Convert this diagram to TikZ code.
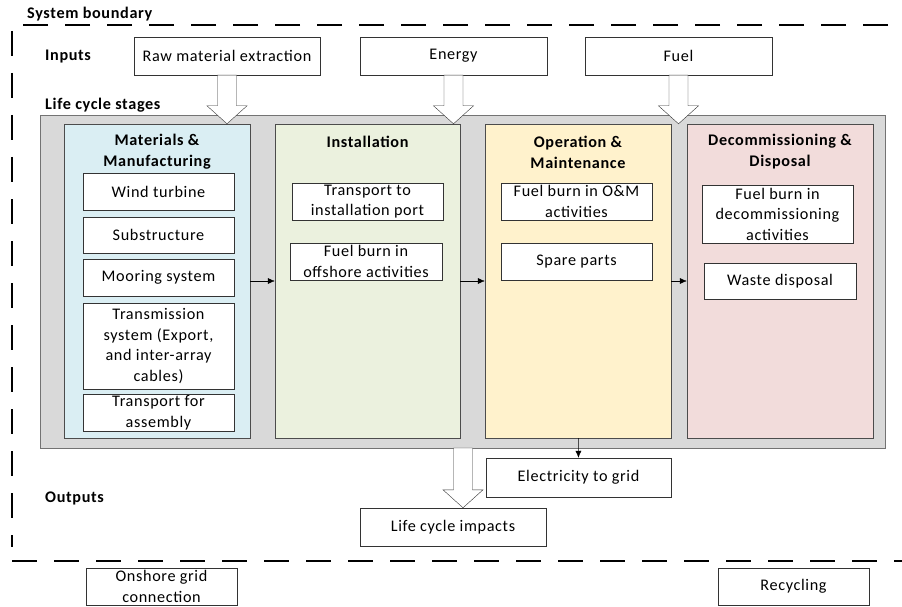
\documentclass[tikz,border=0pt]{standalone}
\usepackage{fontspec}
\setmainfont{Carlito}[LetterSpace=4]
\usetikzlibrary{
  calc,
  arrows.meta
}
\definecolor{mmfill}{HTML}{DAEEF3}
\definecolor{instfill}{HTML}{EBF1DE}
\definecolor{omfill}{HTML}{FFF2CC}
\definecolor{ddfill}{HTML}{F2DCDB}
\definecolor{lcsfill}{HTML}{D9D9D9}
\tikzset{
  item/.style={
    draw=black!80,
    fill=white,
    align=center,
    inner sep=0pt,
    font=\fontsize{16.2}{20.5}\selectfont
  },
  stage/.style={
    draw=black!70,
    minimum width=186,
    minimum height=314,
    inner sep=0pt
  },
  heading/.style={
    align=center,
    inner sep=0pt,
    font=\fontsize{16.2}{21}\selectfont\bfseries
  },
  flow/.style={
    -{Latex[length=7pt,width=6pt]},
    black
  },
  hollow/.style={
    draw=black!80,
    fill=white
  },
  boundary/.style={
    line width=1.3pt,
    dash pattern=on 25pt off 17pt
  }
}
\newcommand\blockarrow[2]{%
  \draw[hollow] let \p1=(#1), \p2=(#2) in
    (\x1-9.5pt,\y1) -- (\x1-9.5pt,\y2+18pt) -- (\x1-20pt,\y2+18pt) -- (\x1,\y2)
    -- (\x1+20pt,\y2+18pt) -- (\x1+9.5pt,\y2+18pt) -- (\x1+9.5pt,\y1) -- cycle;}
\begin{document}
\begin{tikzpicture}[x=1pt,y=-1pt]
  \useasboundingbox (0,0) rectangle (902,607);
  \draw[boundary] (888,25) -- (12,25) -- (12,547);
  \draw[boundary] (12,561) -- (902,561);
  \node[heading,anchor=west] (sb) at (27,14) {System boundary};
  \node[heading,anchor=west] (inputs) at (45,57) {Inputs};
  \node[heading,anchor=west] (stages) at (45,105) {Life cycle stages};
  \node[heading,anchor=west] (outputs) at (45,498) {Outputs};

  \node[item,minimum width=186,minimum height=38] (raw) at (227,56) {Raw material extraction};
  \node[item,minimum width=187,minimum height=38] (energy) at (453.5,56) {Energy};
  \node[item,minimum width=187,minimum height=38] (fuel) at (678.5,56) {Fuel};

  \node[draw=black!55,fill=lcsfill,minimum width=845,minimum height=333,inner sep=0pt] (lcs) at (462.5,281.5) {};
  \node[stage,fill=mmfill] (mm) at (157,281) {};
  \node[stage,fill=instfill,minimum width=185] (inst) at (367.5,281) {};
  \node[stage,fill=omfill] (om) at (578,281) {};
  \node[stage,fill=ddfill] (dd) at (780,281) {};

  \node[heading] (mmtitle) at (157,152) {Materials \&\\Manufacturing};
  \node[heading] (insttitle) at (367.5,142) {Installation};
  \node[heading] (omtitle) at (578,152) {Operation \&\\Maintenance};
  \node[heading] (ddtitle) at (780,152) {Decommissioning \&\\Disposal};

  \node[item,minimum width=151,minimum height=37] (turbine) at (158.5,191.5) {Wind turbine};
  \node[item,minimum width=151,minimum height=36] (sub) at (158.5,235) {Substructure};
  \node[item,minimum width=151,minimum height=37] (mooring) at (158.5,277.5) {Mooring system};
  \node[item,minimum width=151,minimum height=86] (transm) at (158.5,346) {Transmission\\system (Export,\\and inter-array\\cables)};
  \node[item,minimum width=151,minimum height=37] (assembly) at (158.5,412.5) {Transport for\\assembly};

  \node[item,minimum width=151,minimum height=37] (port) at (367.5,201.5) {Transport to\\installation port};
  \node[item,minimum width=152,minimum height=37] (offshore) at (366,261.5) {Fuel burn in\\offshore activities};

  \node[item,minimum width=151,minimum height=37] (omburn) at (576.5,201.5) {Fuel burn in O\&M\\activities};
  \node[item,minimum width=151,minimum height=37] (spare) at (576.5,261.5) {Spare parts};

  \node[item,minimum width=151,minimum height=58] (decburn) at (777.5,214) {Fuel burn in\\decommissioning\\activities};
  \node[item,minimum width=152,minimum height=36] (waste) at (780,281) {Waste disposal};

  \node[item,minimum width=185,minimum height=39] (grid) at (578.5,477.5) {Electricity to grid};
  \node[item,minimum width=186,minimum height=38] (impacts) at (453,527) {Life cycle impacts};
  \node[item,minimum width=151,minimum height=37] (onshore) at (161.5,586.5) {Onshore grid\\connection};
  \node[item,minimum width=151,minimum height=37] (recycling) at (793.5,586.5) {Recycling};

  \draw[flow] (mm) -- (inst);
  \draw[flow] (inst) -- (om);
  \draw[flow] (om) -- (dd);
  \draw[flow] (om) -- (grid);

  \blockarrow{raw.south}{mm.north}
  \blockarrow{energy.south}{inst.north}
  \blockarrow{fuel.south}{dd.north}
  \coordinate (out) at (463,448);
  \blockarrow{out}{impacts.north}
\end{tikzpicture}
\end{document}
